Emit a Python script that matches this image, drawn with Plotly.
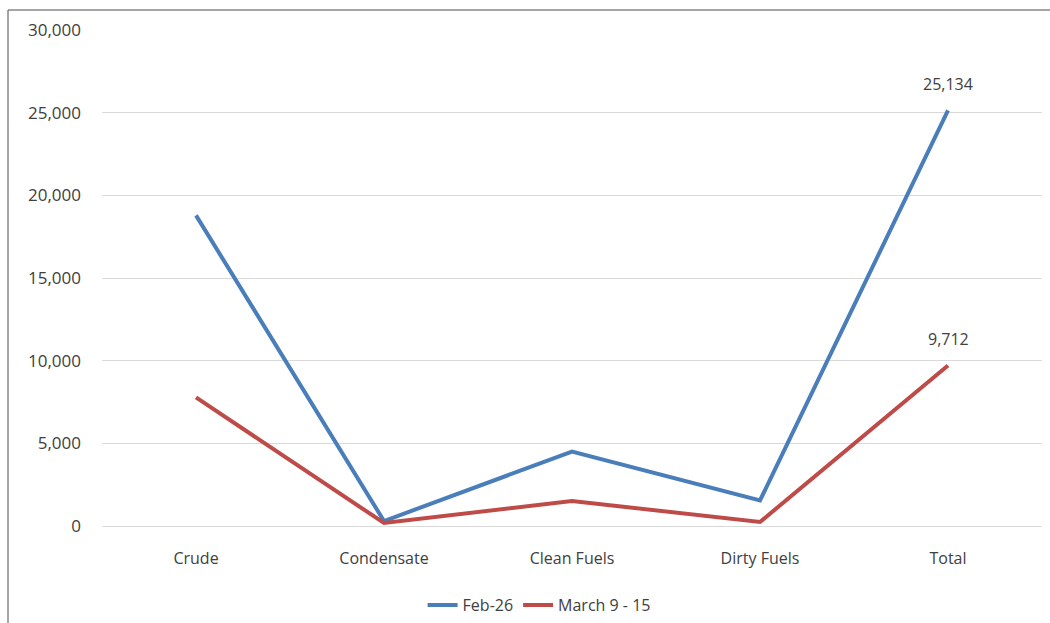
import plotly.graph_objects as go

categories = ["Crude", "Condensate", "Clean Fuels", "Dirty Fuels", "Total"]
feb_26 = [18790, 300, 4500, 1544, 25134]
march_9_15 = [7780, 180, 1512, 240, 9712]
y_ticks = [0, 5000, 10000, 15000, 20000, 25000, 30000]

W, H = 1050, 623
ML, MR, MT, MB = 102, 8, 30, 97
plot_w = W - ML - MR
plot_h = H - MT - MB

font_family = "Open Sans, Noto Sans, sans-serif"
text_color = "#404040"
font_size = 17

fig = go.Figure()
fig.add_trace(go.Scatter(
    x=categories, y=feb_26, name="Feb-26", mode="lines",
    line=dict(color="#4A7EBB", width=4),
))
fig.add_trace(go.Scatter(
    x=categories, y=march_9_15, name="March 9 - 15", mode="lines",
    line=dict(color="#BE4B48", width=4),
))

# value labels on the Total points
for series in (feb_26, march_9_15):
    fig.add_annotation(
        x=categories[-1], y=series[-1], text=f"{series[-1]:,}",
        showarrow=False, yshift=26,
        font=dict(family=font_family, size=font_size - 1, color=text_color),
    )

# chart frame (left and top edges visible)
fig.add_shape(
    type="rect", xref="paper", yref="paper",
    x0=(8 - ML) / plot_w, x1=(W + 20 - ML) / plot_w,
    y0=-(MB + 20) / plot_h, y1=(H - 10 - MB) / plot_h,
    line=dict(color="#4D4D4D", width=1), fillcolor="rgba(0,0,0,0)",
    layer="below",
)

fig.update_layout(
    width=W, height=H,
    margin=dict(l=ML, r=MR, t=MT, b=MB, autoexpand=False),
    paper_bgcolor="white", plot_bgcolor="white",
    font=dict(family=font_family, size=font_size, color=text_color),
    showlegend=True,
    legend=dict(
        orientation="h", x=0.465, xanchor="center", y=-0.125, yanchor="top",
        font=dict(family=font_family, size=font_size - 1, color=text_color),
    ),
    xaxis=dict(
        type="category", range=[-0.5, 4.5], showgrid=False, showline=False,
        zeroline=False, ticks="", ticklabelstandoff=21, automargin=False,
        tickfont=dict(size=font_size - 1),
    ),
    yaxis=dict(
        range=[0, 30000], tickvals=y_ticks, tickformat=",",
        showgrid=True, gridcolor="#D9D9D9", gridwidth=1,
        zeroline=True, zerolinecolor="#D9D9D9", zerolinewidth=1,
        showline=False, ticks="", ticklabelstandoff=20, automargin=False,
        tickfont=dict(size=font_size),
    ),
)

fig.write_html("out.html")
